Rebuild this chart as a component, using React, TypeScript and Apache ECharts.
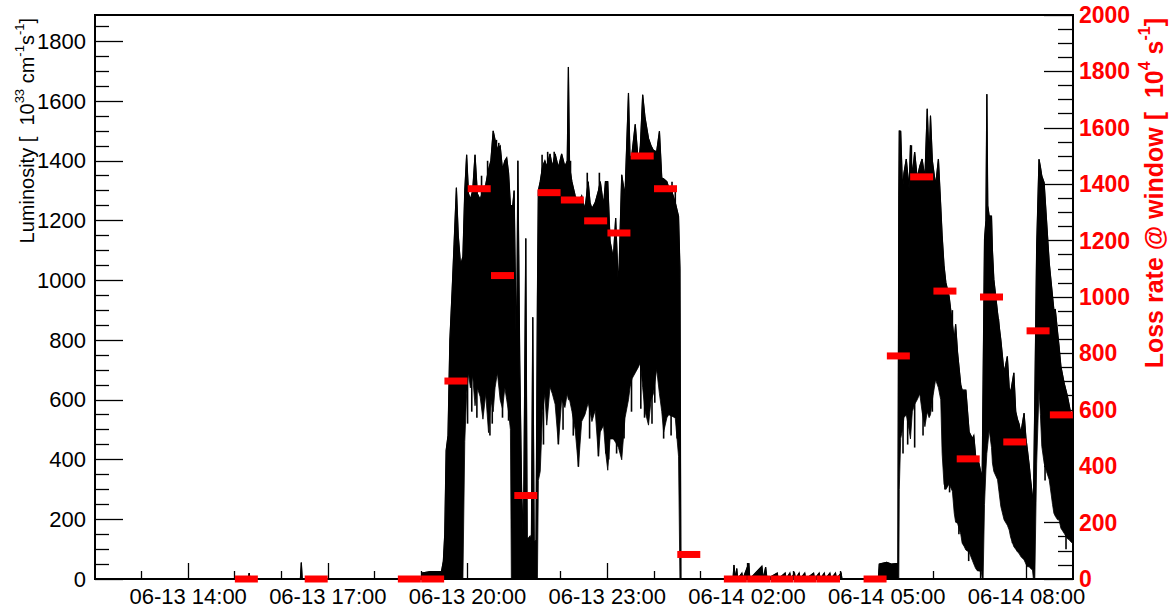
import React, { useEffect, useRef } from "react";
import * as echarts from "echarts";

// time in hours since 06-13 00:00
const lumT = [
  12.0, 15.29, 15.31, 15.33, 16.41, 16.43, 16.45, 19.0, 19.02, 19.2, 19.44, 19.48, 19.51, 19.54, 19.58, 19.62, 19.67, 19.71, 19.76, 19.8,
  19.85, 19.9, 19.94, 19.98, 20.02, 20.06, 20.11, 20.16, 20.21, 20.27, 20.33, 20.39, 20.45, 20.5, 20.55, 20.59, 20.64, 20.7, 20.75, 20.8,
  20.84, 20.88, 20.92, 20.94, 20.97, 21.0, 21.03, 21.05, 21.08, 21.12, 21.16, 21.2, 21.25, 21.28, 21.34, 21.37, 21.4, 21.43, 21.47, 21.5,
  21.52, 21.56, 21.61, 21.66, 21.7, 21.77, 21.82, 21.88, 21.95, 22.02, 22.09, 22.14, 22.165, 22.19, 22.24, 22.31, 22.38, 22.45, 22.52, 22.59,
  22.63, 22.67, 22.74, 22.81, 22.85, 22.92, 22.96, 23.01, 23.06, 23.13, 23.18, 23.24, 23.31, 23.38, 23.455, 23.49, 23.53, 23.6, 23.67, 23.71,
  23.76, 23.81, 23.885, 23.94, 23.99, 24.06, 24.12, 24.17, 24.21, 24.28, 24.32, 24.39, 24.46, 24.53, 24.56, 24.58, 25.7, 25.72, 25.75, 25.78,
  25.8, 25.89, 25.91, 26.04, 26.06, 26.32, 26.35, 26.4, 26.43, 26.65, 26.67, 26.82, 26.84, 26.92, 26.94, 27.02, 27.04, 27.12, 27.14, 27.24,
  27.26, 27.43, 27.45, 27.55, 27.57, 27.66, 27.68, 27.78, 27.8, 27.9, 27.92, 28.02, 28.04, 28.82, 28.84, 29.0, 29.1, 29.24, 29.26, 29.27,
  29.3, 29.34, 29.37, 29.42, 29.48, 29.51, 29.55, 29.6, 29.655, 29.71, 29.76, 29.82, 29.87, 29.91, 29.94, 29.98, 30.05, 30.11, 30.16, 30.19,
  30.23, 30.27, 30.34, 30.41, 30.45, 30.48, 30.52, 30.59, 30.62, 30.66, 30.7, 30.77, 30.84, 30.87, 30.91, 30.95, 30.98, 31.03, 31.05, 31.07,
  31.1, 31.13, 31.15, 31.17, 31.2, 31.25, 31.27, 31.3, 31.38, 31.45, 31.52, 31.59, 31.63, 31.66, 31.73, 31.77, 31.81, 31.84, 31.88, 31.95,
  31.99, 32.02, 32.06, 32.09, 32.13, 32.15, 32.18, 32.22, 32.27, 32.3, 32.33, 32.38, 32.43, 32.49, 32.56, 32.59, 32.62, 32.67, 32.7, 32.74,
  32.81, 32.88, 32.92, 32.95, 32.99, 33.0,
];
const lumHi = [
  0, 0, 20, 0, 0, 55, 0, 0, 20, 25, 25, 60, 150, 430, 480, 800, 970, 1120, 1310, 1150,
  1050, 1080, 1300, 1420, 1290, 1270, 1300, 1420, 1290, 1270, 1300, 1320, 1370, 1400, 1500, 1470, 1440, 1450, 1370, 1400,
  1410, 1360, 1250, 1250, 1250, 1300, 950, 700, 1400, 730, 300, 120, 1140, 130, 143, 110, 876, 120, 130, 946,
  1300, 1330, 1380, 1400, 1380, 1423, 1380, 1423, 1377, 1423, 1380, 1400, 1714, 1380, 1330, 1283, 1260, 1283, 1237, 1330,
  1260, 1240, 1260, 1300, 1330, 1250, 1330, 1330, 1130, 1074, 1208, 969, 1353, 1283, 1627, 1400, 1423, 1522, 1388, 1450,
  1621, 1545, 1475, 1450, 1435, 1430, 1499, 1342, 1340, 1330, 1310, 1295, 1260, 1214, 1039, 0, 0, 47, 0, 35,
  0, 20, 0, 53, 0, 43, 0, 40, 0, 20, 0, 20, 0, 20, 0, 20, 0, 20, 0, 20,
  0, 20, 0, 20, 0, 20, 0, 20, 0, 20, 0, 20, 0, 0, 50, 56, 50, 52, 1283, 1500,
  1499, 1300, 1359, 1406, 1307, 1452, 1350, 1429, 1342, 1382, 1406, 1342, 1574, 1400, 1551, 1400, 1318, 1406, 1248, 1150,
  1050, 992, 946, 853, 800, 853, 760, 650, 632, 632, 632, 492, 470, 480, 410, 399, 388, 350, 343, 667,
  1137, 1200, 1623, 1250, 1215, 1215, 1100, 1003, 891, 801, 690, 745, 640, 623, 690, 560, 533, 520, 488, 555,
  470, 433, 380, 332, 276, 250, 600, 1114, 1405, 1380, 1349, 1327, 1204, 1058, 947, 900, 902, 824, 780, 712,
  656, 612, 580, 555, 530, 522,
];
const lumLo = [
  0, 0, 0, 0, 0, 0, 0, 0, 0, 0, 0, 0, 0, 0, 0, 0, 0, 0, 0, 0,
  0, 0, 460, 620, 690, 640, 680, 580, 640, 610, 535, 620, 490, 600, 560, 640, 690, 600, 570, 640,
  600, 560, 500, 0, 0, 0, 0, 0, 0, 0, 0, 0, 0, 0, 0, 0, 0, 0, 0, 0,
  330, 360, 560, 620, 515, 643, 620, 585, 451, 600, 574, 620, 600, 600, 562, 500, 376, 527, 550, 590,
  560, 527, 565, 411, 492, 515, 430, 364, 469, 469, 457, 440, 399, 539, 600, 643, 670, 690, 710, 725,
  640, 562, 515, 600, 620, 702, 620, 560, 492, 540, 550, 545, 539, 411, 0, 0, 0, 0, 0, 0,
  0, 0, 0, 0, 0, 0, 0, 0, 0, 0, 0, 0, 0, 0, 0, 0, 0, 0, 0, 0,
  0, 0, 0, 0, 0, 0, 0, 0, 0, 0, 0, 0, 0, 0, 0, 0, 0, 0, 0, 300,
  470, 500, 540, 550, 500, 469, 560, 585, 600, 620, 560, 510, 560, 540, 550, 600, 667, 640, 600, 420,
  318, 300, 318, 294, 220, 190, 187, 150, 120, 110, 97, 90, 62, 50, 35, 27, 27, 25, 0, 0,
  250, 365, 420, 450, 500, 440, 388, 360, 332, 243, 198, 180, 164, 140, 108, 100, 90, 86, 75, 64,
  50, 41, 41, 35, 30, 0, 0, 388, 634, 550, 444, 388, 360, 332, 250, 220, 210, 198, 198, 170,
  153, 135, 131, 125, 120, 150,
];

// single readings that stick out of the band (thin vertical strokes)
const spikeT = [
  20.0, 20.09, 20.2, 20.3, 20.43, 20.48, 20.53, 20.62, 20.67, 20.75, 20.88,
  21.6, 21.63, 21.72, 21.86, 21.95, 22.05, 22.21, 22.27, 22.38, 22.57, 22.62, 22.81, 22.83, 22.97,
  23.03, 23.2, 23.36, 23.52, 23.72, 23.8, 23.96, 24.02, 24.21, 24.37, 24.39, 24.46, 24.5,
  29.35, 29.45, 29.53, 29.6, 29.78, 29.98, 30.25, 30.35, 30.41, 30.55, 30.76,
  31.4, 31.55, 31.7, 32.4, 32.52, 32.85,
];
const spikeV = [
  520, 560, 540, 1350, 1400, 480, 520, 1470, 1460, 540, 530,
  1420, 450, 1430, 1430, 451, 500, 1400, 480, 376, 1360, 470, 411, 1360, 420,
  400, 420, 470, 560, 570, 540, 520, 590, 470, 480, 1330, 1300, 470,
  420, 450, 1452, 440, 480, 560, 300, 290, 900, 150, 60,
  870, 200, 120, 330, 990, 100,
];

// loss rate @ window (10^4 s^-1), half-hour bins, bin centres in hours
const lossT = [
  15.25, 16.75, 18.75, 19.25, 19.75, 20.25, 20.75, 21.25, 21.75, 22.25, 22.75, 23.25, 23.75, 24.25, 24.75,
  25.75, 26.25, 26.75, 27.25, 27.75, 28.75, 29.25, 29.75, 30.25, 30.75, 31.25, 31.75, 32.25, 32.75,
];
const lossV = [
  0, 0, 0, 0, 702, 1384, 1076, 296, 1370, 1344, 1270, 1227, 1500, 1384, 87,
  0, 0, 0, 0, 0, 0, 791, 1426, 1021, 426, 1000, 486, 880, 582,
];

const xMajor = [14, 17, 20, 23, 26, 29, 32];
const xMinor = [13, 15, 16, 18, 19, 21, 22, 24, 25, 27, 28, 30, 31];
const leftMajor = [0, 200, 400, 600, 800, 1000, 1200, 1400, 1600, 1800];
const leftMinor = [50, 100, 150, 250, 300, 350, 450, 500, 550, 650, 700, 750, 850, 900, 950, 1050, 1100, 1150, 1250, 1300, 1350, 1450, 1500, 1550, 1650, 1700, 1750, 1850];
const rightMajor = [0, 200, 400, 600, 800, 1000, 1200, 1400, 1600, 1800, 2000];
const rightMinor = [50, 100, 150, 250, 300, 350, 450, 500, 550, 650, 700, 750, 850, 900, 950, 1050, 1100, 1150, 1250, 1300, 1350, 1450, 1500, 1550, 1650, 1700, 1750, 1850, 1900, 1950];

const FONT = "Liberation Sans, Arial, Helvetica, sans-serif";

function fmtHour(v: number): string {
  const h = Math.round(v);
  const day = h >= 24 ? "06-14" : "06-13";
  const hh = h % 24;
  return `${day} ${String(hh).padStart(2, "0")}:00`;
}

function bandAt(t: number): [number, number] {
  for (let i = 0; i < lumT.length - 1; i++) {
    if (t >= lumT[i] && t <= lumT[i + 1]) {
      const f = (t - lumT[i]) / (lumT[i + 1] - lumT[i]);
      return [lumLo[i] + f * (lumLo[i + 1] - lumLo[i]), lumHi[i] + f * (lumHi[i + 1] - lumHi[i])];
    }
  }
  return [0, 0];
}

export default function App() {
  const ref = useRef<HTMLDivElement>(null);
  useEffect(() => {
    if (!ref.current) return;
    const chart = echarts.init(ref.current, undefined, { renderer: "svg" });
    const tickStyle = { color: "#000", width: 1.3 };
    const plain = (v: number) => String(v);
    const option: any = {
      animation: false,
      backgroundColor: "#fff",
      textStyle: { fontFamily: FONT },
      grid: {
        left: 95,
        top: 15,
        width: 978,
        height: 564,
        show: true,
        borderColor: "#000",
        borderWidth: 2,
        backgroundColor: "transparent",
        z: 5,
      },
      xAxis: [
        {
          type: "value",
          min: 12,
          max: 33,
          position: "bottom",
          axisLine: { show: false },
          splitLine: { show: false },
          axisTick: { show: true, inside: true, length: 16, lineStyle: tickStyle, customValues: xMajor },
          axisLabel: {
            customValues: xMajor,
            formatter: (v: number) => fmtHour(v),
            color: "#000",
            fontSize: 22,
            fontFamily: FONT,
            margin: 6,
          },
        },
        {
          type: "value",
          min: 12,
          max: 33,
          position: "bottom",
          axisLine: { show: false },
          splitLine: { show: false },
          axisTick: { show: true, inside: true, length: 8, lineStyle: tickStyle, customValues: xMinor },
          axisLabel: { show: false, customValues: xMinor },
        },
      ],
      yAxis: [
        {
          type: "value",
          min: 0,
          max: 1888,
          position: "left",
          axisLine: { show: false },
          splitLine: { show: false },
          axisTick: { show: true, inside: true, length: 28, lineStyle: tickStyle, customValues: leftMajor },
          axisLabel: { customValues: leftMajor, formatter: plain, color: "#000", fontSize: 22, fontFamily: FONT, margin: 9 },
        },
        {
          type: "value",
          min: 0,
          max: 2000,
          position: "right",
          axisLine: { show: false },
          splitLine: { show: false },
          axisTick: { show: true, inside: true, length: 29, lineStyle: tickStyle, customValues: rightMajor },
          axisLabel: {
            customValues: rightMajor,
            formatter: plain,
            color: "#ff0000",
            fontWeight: "bold",
            fontSize: 23,
            fontFamily: FONT,
            margin: 6,
          },
        },
        {
          type: "value",
          min: 0,
          max: 1888,
          position: "left",
          axisLine: { show: false },
          splitLine: { show: false },
          axisTick: { show: true, inside: true, length: 14, lineStyle: tickStyle, customValues: leftMinor },
          axisLabel: { show: false, customValues: leftMinor },
        },
        {
          type: "value",
          min: 0,
          max: 2000,
          position: "right",
          axisLine: { show: false },
          splitLine: { show: false },
          axisTick: { show: true, inside: true, length: 15, lineStyle: tickStyle, customValues: rightMinor },
          axisLabel: { show: false, customValues: rightMinor },
        },
      ],
      series: [
        {
          name: "Luminosity",
          type: "custom",
          xAxisIndex: 0,
          yAxisIndex: 0,
          silent: true,
          clip: true,
          data: [[lumT[0], 0]],
          encode: { x: 0, y: 1 },
          renderItem: (params: any, api: any) => {
            if (params.dataIndex !== 0) return null;
            const upper: number[][] = [];
            const lower: number[][] = [];
            for (let i = 0; i < lumT.length; i++) {
              upper.push(api.coord([lumT[i], lumHi[i]]));
              lower.push(api.coord([lumT[i], lumLo[i]]));
            }
            const poly = upper.concat(lower.slice().reverse());
            const children: any[] = [
              {
                type: "polygon",
                shape: { points: poly },
                style: { fill: "#000", stroke: "#000", lineWidth: 0.8 },
              },
              {
                type: "polyline",
                shape: { points: upper },
                style: { fill: "none", stroke: "#000", lineWidth: 1.2 },
              },
            ];
            for (let k = 0; k < spikeT.length; k++) {
              const [lo, hi] = bandAt(spikeT[k]);
              const mid = (lo + hi) / 2;
              const p1 = api.coord([spikeT[k], spikeV[k]]);
              const p2 = api.coord([spikeT[k], mid]);
              children.push({
                type: "line",
                shape: { x1: p1[0], y1: p1[1], x2: p2[0], y2: p2[1] },
                style: { stroke: "#000", lineWidth: 1.6 },
              });
            }
            return { type: "group", children };
          },
          z: 2,
        },
        {
          name: "Loss rate",
          type: "scatter",
          xAxisIndex: 0,
          yAxisIndex: 1,
          symbol: "rect",
          symbolSize: [23, 7],
          itemStyle: { color: "#ff0000", opacity: 1 },
          silent: true,
          data: lossT.map((t, i) => [t, lossV[i]]),
          z: 10,
        },
      ],
      graphic: [
        {
          type: "text",
          x: 25,
          y: 18,
          rotation: Math.PI / 2,
          style: {
            text: "{n|Luminosity [  10}{s|33}{n| cm}{s|-1}{n|s}{s|-1}{n|]}",
            align: "right",
            verticalAlign: "middle",
            rich: {
              n: { fontSize: 20, fontFamily: FONT, fill: "#000", lineHeight: 24, verticalAlign: "bottom" },
              s: { fontSize: 13, fontFamily: FONT, fill: "#000", lineHeight: 13, verticalAlign: "top" },
            },
          },
        },
        {
          type: "text",
          x: 1151,
          y: 18,
          rotation: Math.PI / 2,
          style: {
            text: "{n|Loss rate @ window [  10}{s|4}{n| s}{s|-1}{n|]}",
            align: "right",
            verticalAlign: "middle",
            rich: {
              n: { fontSize: 25, fontWeight: "bold", fontFamily: FONT, fill: "#ff0000", lineHeight: 30, verticalAlign: "bottom" },
              s: { fontSize: 16, fontWeight: "bold", fontFamily: FONT, fill: "#ff0000", lineHeight: 16, verticalAlign: "top" },
            },
          },
        },
      ],
    };
    chart.setOption(option);
    return () => chart.dispose();
  }, []);
  return (
    <div
      ref={ref}
      style={{ position: "fixed", left: 0, top: 0, width: 1175, height: 610, background: "#fff" }}
    />
  );
}
